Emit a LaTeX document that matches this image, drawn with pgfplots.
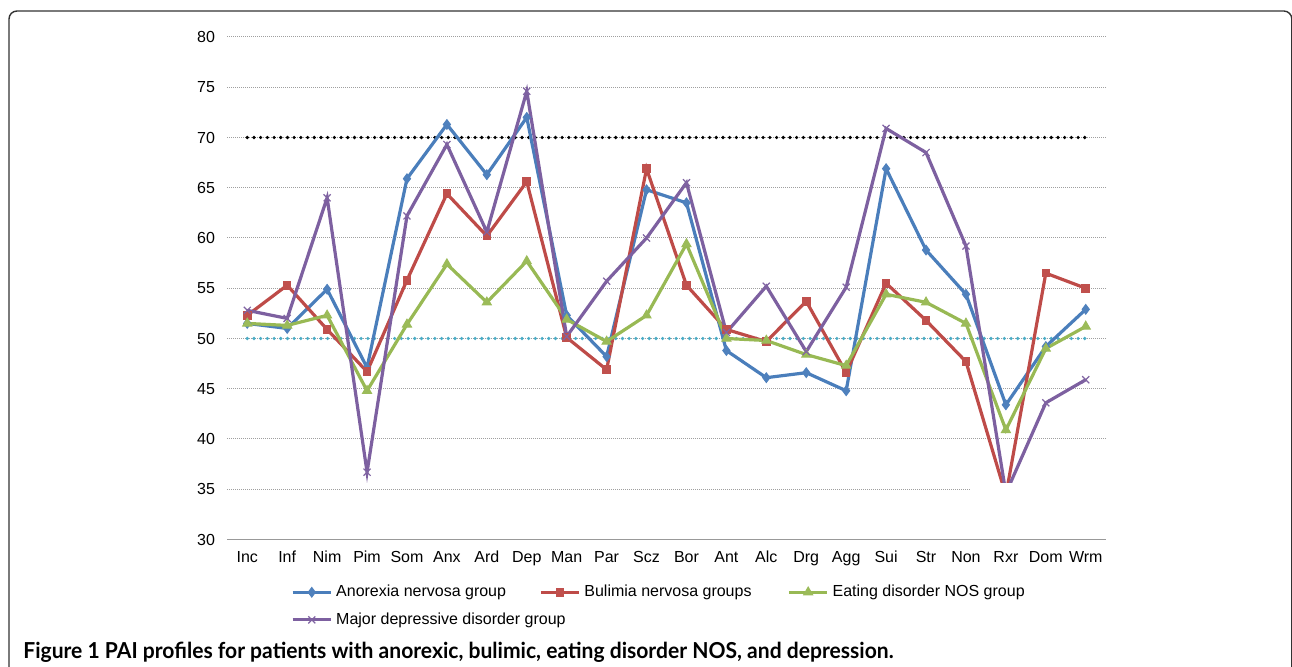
\documentclass[border=0pt]{standalone}
\usepackage{fontspec}
\setmainfont{Liberation Sans}
\newfontfamily\capfont{Lato}
\usepackage{graphicx}
\usepackage{pgfplots}
\usepackage{pgfplotstable}
\pgfplotsset{compat=1.18}

\definecolor{cBlue}{HTML}{4A7EBB}
\definecolor{cBlueM}{HTML}{4F81BD}
\definecolor{cRed}{HTML}{BE4B48}
\definecolor{cRedM}{HTML}{C0504D}
\definecolor{cGreen}{HTML}{98B954}
\definecolor{cGreenM}{HTML}{9BBB59}
\definecolor{cPurple}{HTML}{7D60A0}
\definecolor{cPurpleM}{HTML}{8064A2}
\definecolor{cTeal}{HTML}{4BACC6}

\pgfplotstableread{
x an bn ed md
0  51.5 52.3 51.5 52.8
1  51.0 55.3 51.3 52.0
2  54.9 50.9 52.3 64.0
3  47.1 46.7 44.8 36.7
4  65.9 55.8 51.4 62.2
5  71.3 64.4 57.4 69.3
6  66.3 60.2 53.6 60.6
7  72.0 65.6 57.7 74.6
8  52.3 50.1 51.9 50.2
9  48.2 46.9 49.7 55.7
10 64.8 66.9 52.3 60.0
11 63.5 55.3 59.4 65.5
12 48.8 50.9 50.0 50.6
13 46.1 49.7 49.8 55.2
14 46.6 53.7 48.4 48.7
15 44.8 46.6 47.3 55.1
16 66.9 55.5 54.4 70.9
17 58.8 51.8 53.6 68.5
18 54.4 47.7 51.5 59.2
19 43.4 34.4 40.9 34.6
20 49.2 56.5 49.0 43.6
21 52.9 55.0 51.2 45.9
}\datatable

\begin{document}
\begin{tikzpicture}
\useasboundingbox (0bp,0bp) rectangle (646bp,333.5bp);
% frame
\draw[line width=0.7bp, color=black!80, rounded corners=4bp] (4.5bp,-20bp) rectangle (645.9bp,328bp);
\begin{axis}[
  at={(113.65bp,63.75bp)}, anchor=south west,
  scale only axis, width=439.2bp, height=251.25bp,
  xmin=-0.5, xmax=21.5, ymin=30, ymax=80,
  xtick={0,...,21},
  xticklabels={Inc,Inf,Nim,Pim,Som,Anx,Ard,Dep,Man,Par,Scz,Bor,Ant,Alc,Drg,Agg,Sui,Str,Non,Rxr,Dom,Wrm},
  ytick={30,35,...,80},
  /pgf/number format/assume math mode=true,
  major tick length=0pt,
  axis x line*=bottom, axis y line*=left,
  y axis line style={draw=none},
  x axis line style={draw=gray!80, line width=0.6bp},
  ymajorgrids,
  major grid style={draw=gray!75, line width=0.5bp, dash pattern=on 0.5bp off 0.5bp},
  tick label style={font=\fontsize{8bp}{9.6bp}\selectfont},
  yticklabel style={anchor=east, inner sep=0pt, xshift=-6bp},
  xticklabel style={anchor=base, inner sep=0pt, yshift=-11.6bp},
  legend columns=3,
  legend cell align=left,
  legend image code/.code={\draw[mark repeat=2,mark phase=2,#1] plot coordinates {(0bp,0bp) (9.6bp,0bp) (19.2bp,0bp)};},
  legend style={at={(axis description cs:0.0725,-0.0895)}, anchor=north west,
    draw=none, fill=none, inner sep=0pt, outer sep=0pt, column sep=0pt, row sep=6bp,
    font=\fontsize{8bp}{9.6bp}\selectfont,
    nodes={inner sep=0pt, text height=6bp, text depth=1.8bp},
    /tikz/every odd column/.append style={column sep=1.8bp}},
]
% reference lines
\addplot[forget plot, black, line width=1.8bp, line cap=round, dash pattern=on 0pt off 3.35bp] coordinates {(0,70) (21,70)};
\addplot[forget plot, cTeal, line width=1.8bp, line cap=round, dash pattern=on 0pt off 3.35bp] coordinates {(0,50) (21,50)};
% series
\addplot[cBlue, line width=1.6bp, mark=diamond*, mark size=2.4bp, mark options={fill=cBlueM, draw=cBlueM, line width=0.5bp}] table[x=x,y=an] {\datatable};
\addlegendentry{\makebox[101.5bp][l]{Anorexia nervosa group}}
\addplot[cRed, line width=1.6bp, mark=square*, mark size=1.9bp, mark options={fill=cRedM, draw=cRedM, line width=0.5bp}] table[x=x,y=bn] {\datatable};
\addlegendentry{\makebox[101.5bp][l]{Bulimia nervosa groups}}
\addplot[cGreen, line width=1.6bp, mark=triangle*, mark size=2.6bp, mark options={fill=cGreenM, draw=cGreenM, line width=0.5bp}] table[x=x,y=ed] {\datatable};
\addlegendentry{Eating disorder NOS group}
\addplot[cPurple, line width=1.6bp, mark=x, mark size=2.5bp, mark options={draw=cPurpleM, line width=0.6bp}] table[x=x,y=md] {\datatable};
\addlegendentry{\makebox[101.5bp][l]{Major depressive disorder group}}
\coordinate (mA) at (axis cs:18.1,30.4);
\coordinate (mB) at (axis cs:21.5,35.65);
\end{axis}
% masking artefact of the original figure (covers the lowest part near Rxr)
\fill[white] (mA) rectangle (mB);
\node[anchor=base west, inner sep=0pt] at (11.5bp,4.5bp) {\resizebox{435bp}{\height}{\capfont\bfseries\fontsize{11bp}{13bp}\selectfont Figure 1 PAI profiles for patients with anorexic, bulimic, eating disorder NOS, and depression.}};
\end{tikzpicture}
\end{document}
